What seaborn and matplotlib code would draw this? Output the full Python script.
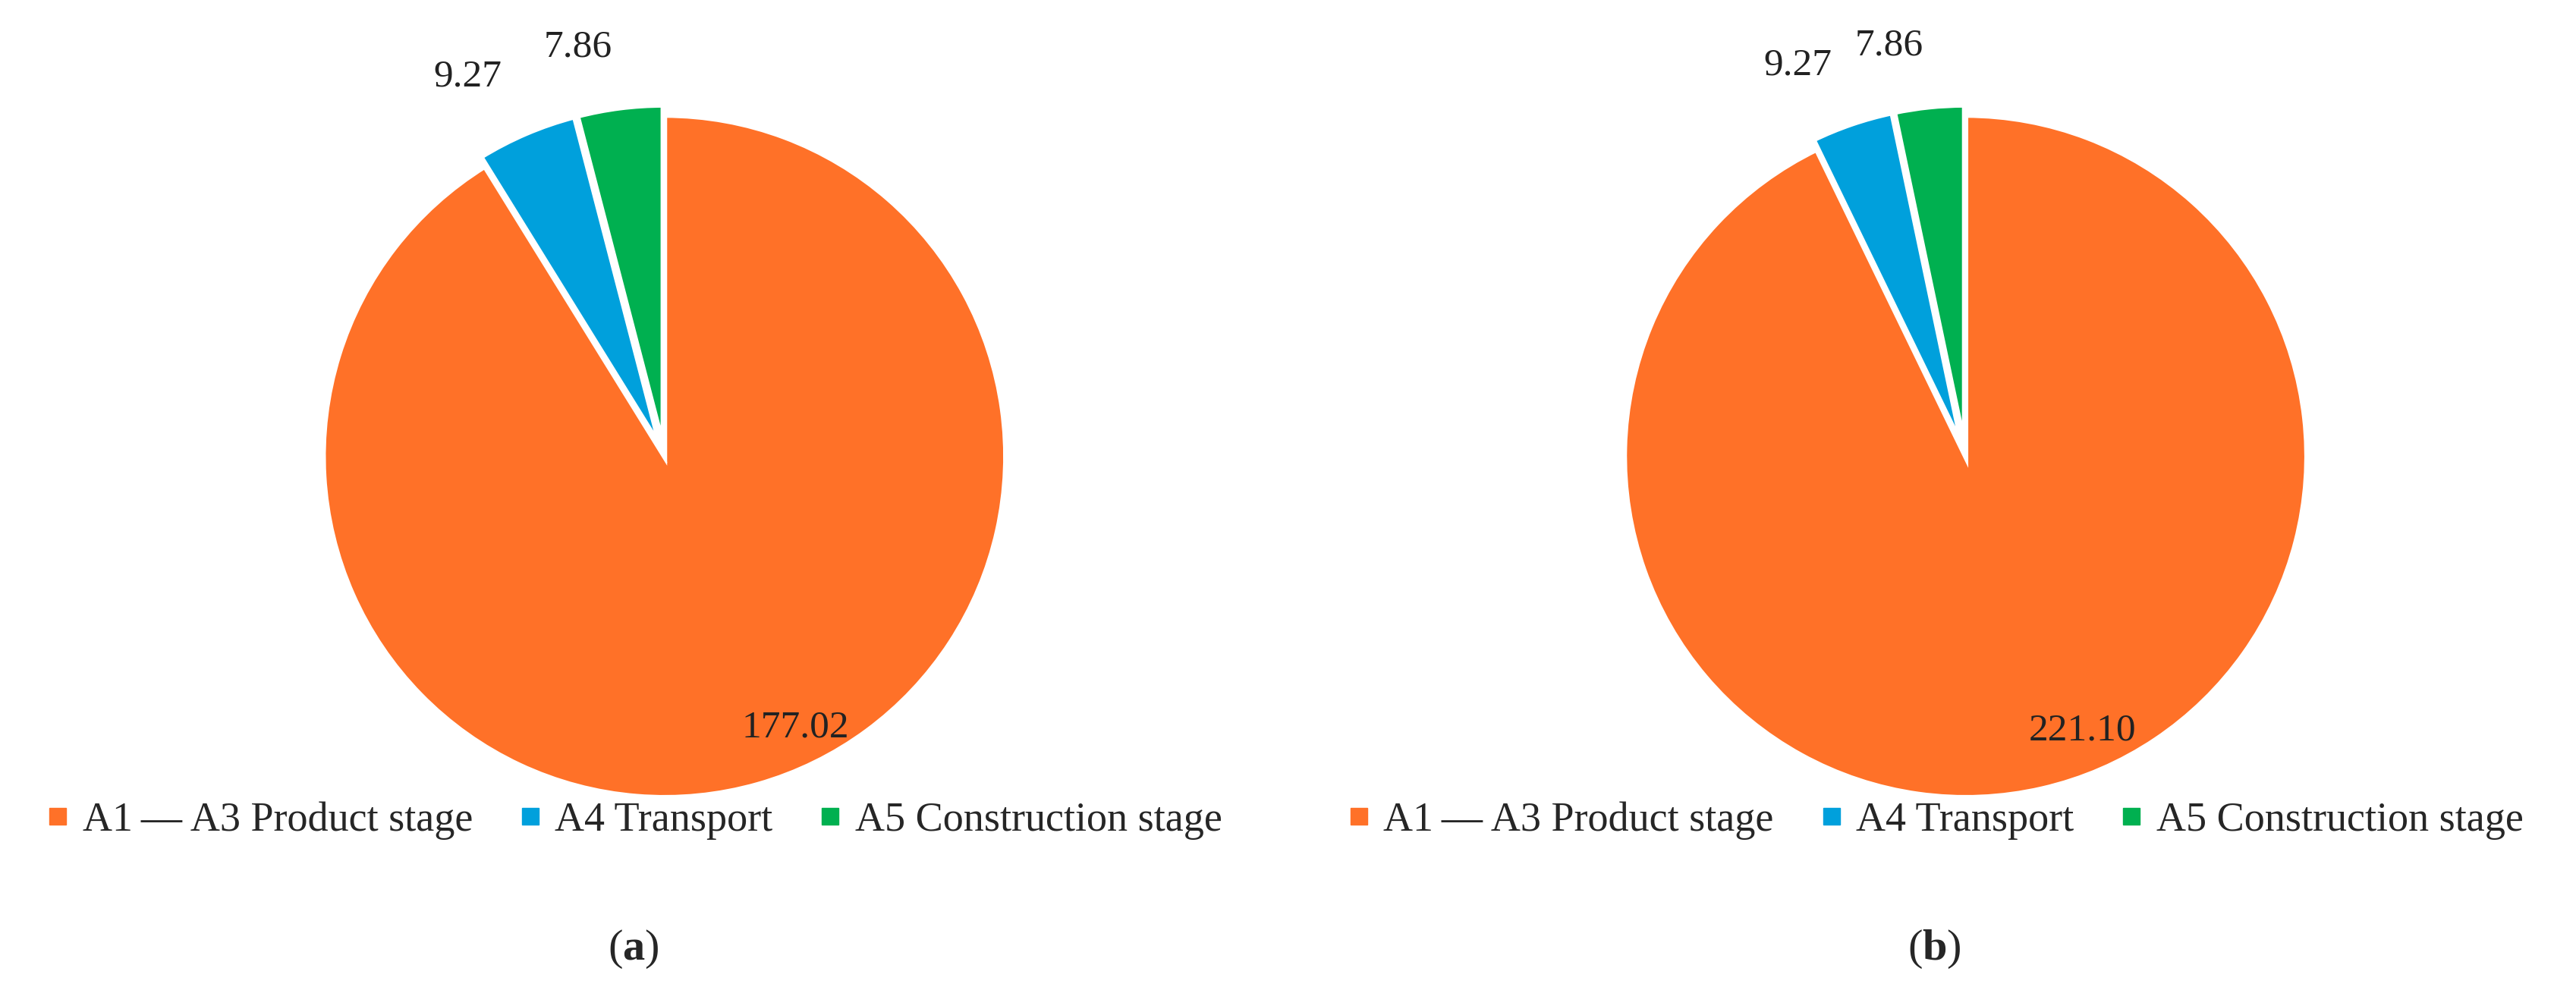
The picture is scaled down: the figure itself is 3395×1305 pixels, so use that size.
import matplotlib.pyplot as plt
import seaborn as sns
from matplotlib.lines import Line2D

# Data
stages = ['A1\u2009\u2014\u2009A3 Product stage', 'A4 Transport', 'A5 Construction stage']
values_a = [177.02, 9.27, 7.86]
values_b = [221.10, 9.27, 7.86]
panel_labels = ['a', 'b']

sns.set_theme(style='white')
plt.rcParams['font.family'] = ['Liberation Serif', 'DejaVu Serif']
plt.rcParams['mathtext.fontset'] = 'custom'
plt.rcParams['mathtext.bf'] = 'Liberation Serif:bold'
plt.rcParams['mathtext.rm'] = 'Liberation Serif'
colors = sns.color_palette(['#FF7128', '#00A0DC', '#00B050'])

W, H = 1570, 603
fig = plt.figure(figsize=(33.95, 13.05), dpi=100)

centers = [(405, 278), (1198, 278)]
r = 208
for (cx, cy), vals, pl in zip(centers, [values_a, values_b], panel_labels):
    ax = fig.add_axes([(cx - r) / W, (H - cy - r) / H, 2 * r / W, 2 * r / H])
    wedges, texts = ax.pie(vals, colors=colors, startangle=90, counterclock=False,
                           explode=[0, 0.03, 0.03], labels=[f'{v:.2f}' for v in vals],
                           labeldistance=1.18,
                           wedgeprops=dict(edgecolor='white', linewidth=5),
                           textprops=dict(fontsize=37, color='#222222'))
    x, y = texts[0].get_position()
    texts[0].set_position((x * 0.7, y * 0.7))
    ax.set_xlim(-1, 1)
    ax.set_ylim(-1, 1)
    for w in wedges:
        w.set_clip_on(False)

    handles = [Line2D([], [], marker='s', linestyle='', color=c, markersize=16) for c in colors]
    fig.legend(handles, stages, loc='center', ncol=3, frameon=False,
               bbox_to_anchor=((cx - 20) / W, 1 - 500 / H), fontsize=39,
               handletextpad=0.2, columnspacing=1.0, handlelength=0.8)
    fig.text(cx / W - 0.012, 1 - 578 / H, '(' + r'$\mathbf{' + pl + '}$' + ')',
             ha='center', va='center', fontsize=42)

fig.savefig('out.png', dpi=100, facecolor='white')
